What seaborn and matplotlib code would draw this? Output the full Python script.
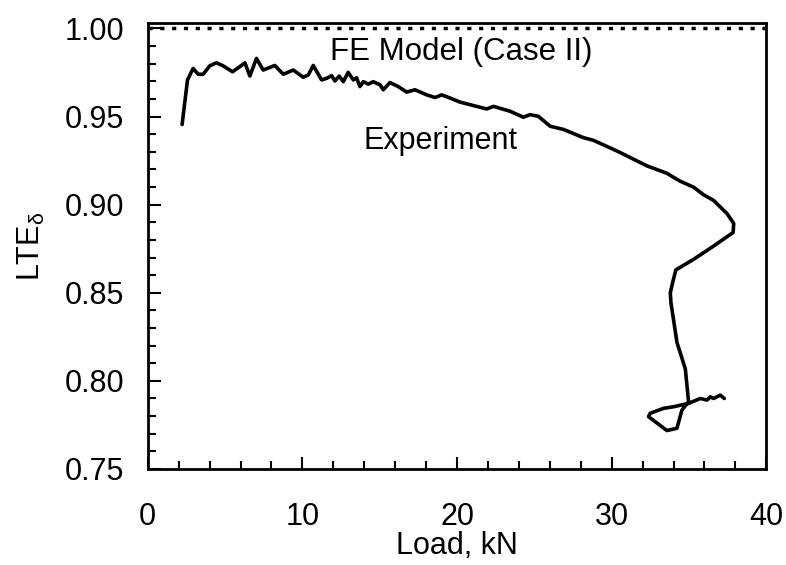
import numpy as np
import pandas as pd
import matplotlib
matplotlib.use("Agg")
import matplotlib.pyplot as plt
from matplotlib.ticker import MultipleLocator
import seaborn as sns

# experiment: load (kN) vs LTE
load_kn = [2.22, 2.57, 2.93, 3.26, 3.58, 4.01, 4.45, 4.87, 5.48, 6.06, 6.28, 6.60, 7.03,
           7.46, 8.22, 8.76, 9.41, 10.05, 10.38, 10.70, 11.24, 11.57, 11.89, 12.10, 12.38,
           12.64, 12.96, 13.29, 13.50, 13.72, 13.94, 14.26, 14.58, 15.02, 15.23, 15.66,
           16.20, 16.74, 17.28, 18.04, 18.58, 19.01, 19.55, 20.19, 21.92, 22.35, 23.43,
           24.29, 24.72, 25.26, 26.02, 26.88, 28.18, 28.82, 30.33, 31.41, 32.28, 33.57,
           34.00, 34.43, 35.30, 35.94, 36.59, 37.46, 37.89, 37.85, 36.59, 35.30, 34.15,
           33.96, 33.79, 33.83, 33.96, 34.22, 34.76, 34.97, 34.54, 34.22, 33.57, 32.38,
           32.49, 33.35, 34.00, 34.97, 35.73, 36.16, 36.38, 36.59, 37.02, 37.28]
lte = [0.9455, 0.9708, 0.9773, 0.9740, 0.9740, 0.9788, 0.9805, 0.9788, 0.9754, 0.9790,
       0.9805, 0.9730, 0.9830, 0.9764, 0.9790, 0.9740, 0.9764, 0.9723, 0.9736, 0.9790,
       0.9708, 0.9717, 0.9732, 0.9702, 0.9730, 0.9698, 0.9751, 0.9708, 0.9720, 0.9670,
       0.9698, 0.9684, 0.9698, 0.9680, 0.9652, 0.9693, 0.9670, 0.9639, 0.9652, 0.9623,
       0.9608, 0.9623, 0.9605, 0.9582, 0.9543, 0.9558, 0.9530, 0.9496, 0.9511, 0.9501,
       0.9445, 0.9427, 0.9380, 0.9365, 0.9305, 0.9258, 0.9220, 0.9178, 0.9155, 0.9133,
       0.9099, 0.9056, 0.9024, 0.8949, 0.8893, 0.8842, 0.8765, 0.8690, 0.8630, 0.8565,
       0.8500, 0.8443, 0.8369, 0.8218, 0.8068, 0.7881, 0.7834, 0.7731, 0.7718, 0.7797,
       0.7816, 0.7844, 0.7853, 0.7872, 0.7900, 0.7891, 0.7909, 0.7900, 0.7919, 0.7900]

# FE model (Case II)
fe_load = [0, 40]
fe_lte = [1.0, 1.0]

df = pd.DataFrame({"load": load_kn, "lte": lte})

sns.set_style("ticks")
plt.rcParams["font.family"] = ["Liberation Sans", "DejaVu Sans"]
plt.rcParams["text.color"] = "black"
plt.rcParams["axes.labelcolor"] = "black"
plt.rcParams["xtick.color"] = "black"
plt.rcParams["ytick.color"] = "black"
plt.rcParams["mathtext.fontset"] = "custom"
plt.rcParams["mathtext.rm"] = "Liberation Sans"
plt.rcParams["mathtext.it"] = "Liberation Sans"

fig = plt.figure(figsize=(7.86, 5.65), dpi=100)
ax = fig.add_axes([0.188, 0.170, 0.787, 0.789])

sns.lineplot(data=df, x="load", y="lte", sort=False, estimator=None,
             color="black", linewidth=2.6, ax=ax)
ax.plot(fe_load, fe_lte, color="black", linestyle=(0, (1.2, 2.2)), linewidth=2.5)

ax.set_xlim(0, 40)
ax.set_ylim(0.75, 1.003)
ax.set_xticks([0, 10, 20, 30, 40])
ax.set_yticks([0.75, 0.80, 0.85, 0.90, 0.95, 1.00])
ax.set_yticklabels(["0.75", "0.80", "0.85", "0.90", "0.95", "1.00"])
ax.xaxis.set_minor_locator(MultipleLocator(2))
ax.yaxis.set_minor_locator(MultipleLocator(0.01))
ax.tick_params(which="both", direction="in", top=False, right=False, width=1.5)
ax.tick_params(which="major", length=9, labelsize=22)
ax.tick_params(which="minor", length=6)
ax.tick_params(axis="x", which="major", pad=24)
ax.tick_params(axis="y", which="major", pad=17)
for s in ax.spines.values():
    s.set_linewidth(2)
    s.set_color("black")

ax.set_xlabel("Load, kN", fontsize=22)
ax.xaxis.set_label_coords(0.5, -0.14)
ax.set_ylabel(r"LTE$_{\mathrm{δ}}$", fontsize=22)
ax.yaxis.set_label_coords(-0.163, 0.5)

ax.text(20.3, 0.982, "FE Model (Case II)", fontsize=22.5, ha="center", va="baseline")
ax.text(18.9, 0.9314, "Experiment", fontsize=22, ha="center", va="baseline")

fig.savefig("out.png", dpi=100)
